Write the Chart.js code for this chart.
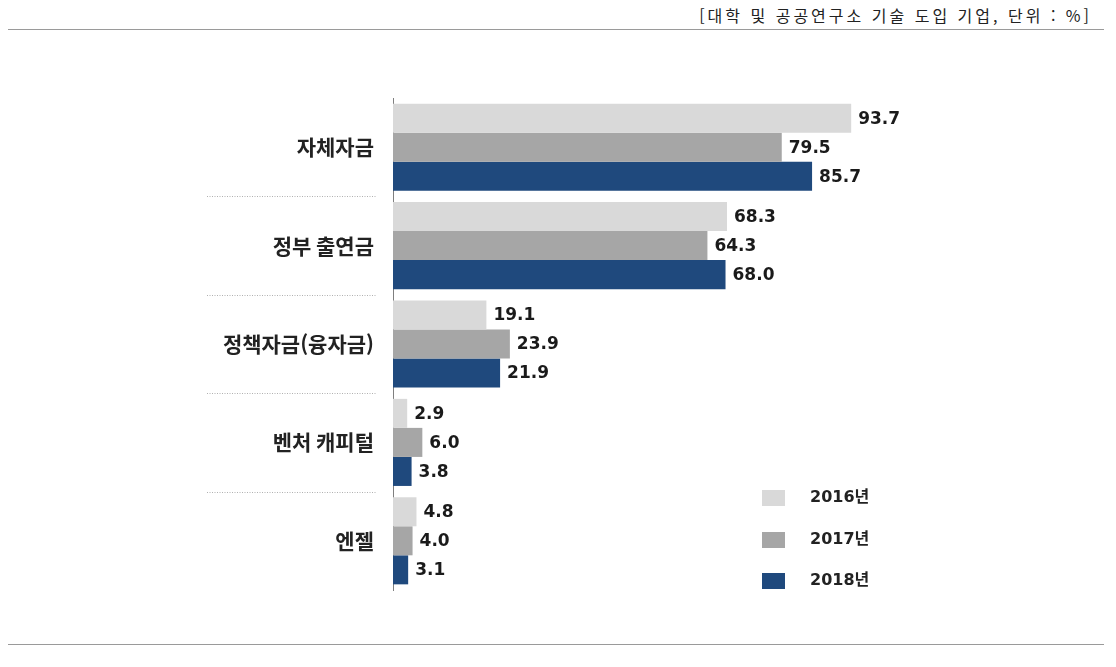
<!DOCTYPE html>
<html lang="ko">
<head>
<meta charset="utf-8">
<script src="https://cdn.jsdelivr.net/npm/chart.js@4/dist/chart.umd.min.js"></script>
<style>
  html, body { margin: 0; padding: 0; background: #fff; }
  #wrap { position: relative; width: 1116px; height: 667px; overflow: hidden; }
  #unit {
    position: absolute; right: 24px; top: 3px; white-space: nowrap;
    font: 16px "Noto Sans CJK KR", sans-serif; letter-spacing: 3px; color: #222;
  }
  .rule { position: absolute; left: 8px; width: 1096px; height: 0; border-top: 1.5px solid #9a9a9a; }
  #legend { position: absolute; left: 762px; top: 486px; }
  .item { position: relative; height: 41.5px; width: 140px; }
  .sw { position: absolute; left: 0; top: 4px; width: 23px; height: 16px; }
  .lb {
    position: absolute; left: 48px; top: 0; white-space: nowrap;
    font: bold 16px "DejaVu Sans", "Noto Sans CJK KR", sans-serif; color: #222; line-height: 22px;
  }
  canvas { position: absolute; left: 0; top: 0; }
</style>
</head>
<body>
<div id="wrap">
  <div id="unit">[대학 및 공공연구소 기술 도입 기업, 단위 : %]</div>
  <div class="rule" style="top:29px"></div>
  <div class="rule" style="top:644px"></div>
  <canvas id="chart" width="1116" height="667"></canvas>
  <div id="legend"></div>
</div>
<script>
  // categories and series
  var categories = ['자체자금', '정부 출연금', '정책자금(융자금)', '벤처 캐피털', '엔젤'];
  var years = ['2016년', '2017년', '2018년'];
  var values2016 = [93.7, 68.3, 19.1, 2.9, 4.8];
  var values2017 = [79.5, 64.3, 23.9, 6.0, 4.0];
  var values2018 = [85.7, 68.0, 21.9, 3.8, 3.1];
  var colors = ['#d9d9d9', '#a6a6a6', '#1f497d'];

  var series = [values2016, values2017, values2018];

  /* value labels next to bar ends + dotted separators between groups */
  var decorations = {
    id: 'decorations',
    afterDatasetsDraw: function (chart) {
      var ctx = chart.ctx;
      ctx.save();
      ctx.font = 'bold 17px "DejaVu Sans", sans-serif';
      ctx.fillStyle = '#1a1a1a';
      ctx.textAlign = 'left';
      ctx.textBaseline = 'middle';
      chart.data.datasets.forEach(function (ds, i) {
        chart.getDatasetMeta(i).data.forEach(function (bar, j) {
          ctx.fillText(ds.data[j].toFixed(1), bar.x + 7, bar.y + 1);
        });
      });

      var y = chart.scales.y;
      var step = y.getPixelForValue(1) - y.getPixelForValue(0);
      ctx.strokeStyle = '#b0b0b0';
      ctx.lineWidth = 1;
      ctx.setLineDash([1, 1.5]);
      for (var k = 0; k < categories.length - 1; k++) {
        var py = Math.round(y.getPixelForValue(k) + step / 2) + 0.5;
        ctx.beginPath();
        ctx.moveTo(207, py);
        ctx.lineTo(376, py);
        ctx.stroke();
      }
      ctx.restore();
    }
  };

  new Chart(document.getElementById('chart'), {
    type: 'bar',
    data: {
      labels: categories,
      datasets: years.map(function (y, i) {
        return {
          label: y,
          data: series[i],
          backgroundColor: colors[i],
          borderWidth: 0,
          categoryPercentage: 0.885,
          barPercentage: 1.0
        };
      })
    },
    options: {
      indexAxis: 'y',
      responsive: false,
      animation: false,
      layout: { padding: { left: 0, right: 234, top: 98, bottom: 77 } },
      plugins: { legend: { display: false }, tooltip: { enabled: false } },
      scales: {
        x: { display: false, min: 0, max: 100 },
        y: {
          afterFit: function (scale) { scale.width = 393; },
          grid: { display: false, drawTicks: false },
          border: { display: true, color: '#7f7f7f', width: 1 },
          ticks: {
            padding: 19,
            color: '#222',
            font: { family: '"Noto Sans CJK KR", sans-serif', size: 21, weight: 'bold' }
          }
        }
      }
    },
    plugins: [decorations]
  });

  var legend = document.getElementById('legend');
  years.forEach(function (y, i) {
    var item = document.createElement('div');
    item.className = 'item';
    item.innerHTML = '<div class="sw" style="background:' + colors[i] + '"></div><div class="lb">' + y + '</div>';
    legend.appendChild(item);
  });
</script>
</body>
</html>
